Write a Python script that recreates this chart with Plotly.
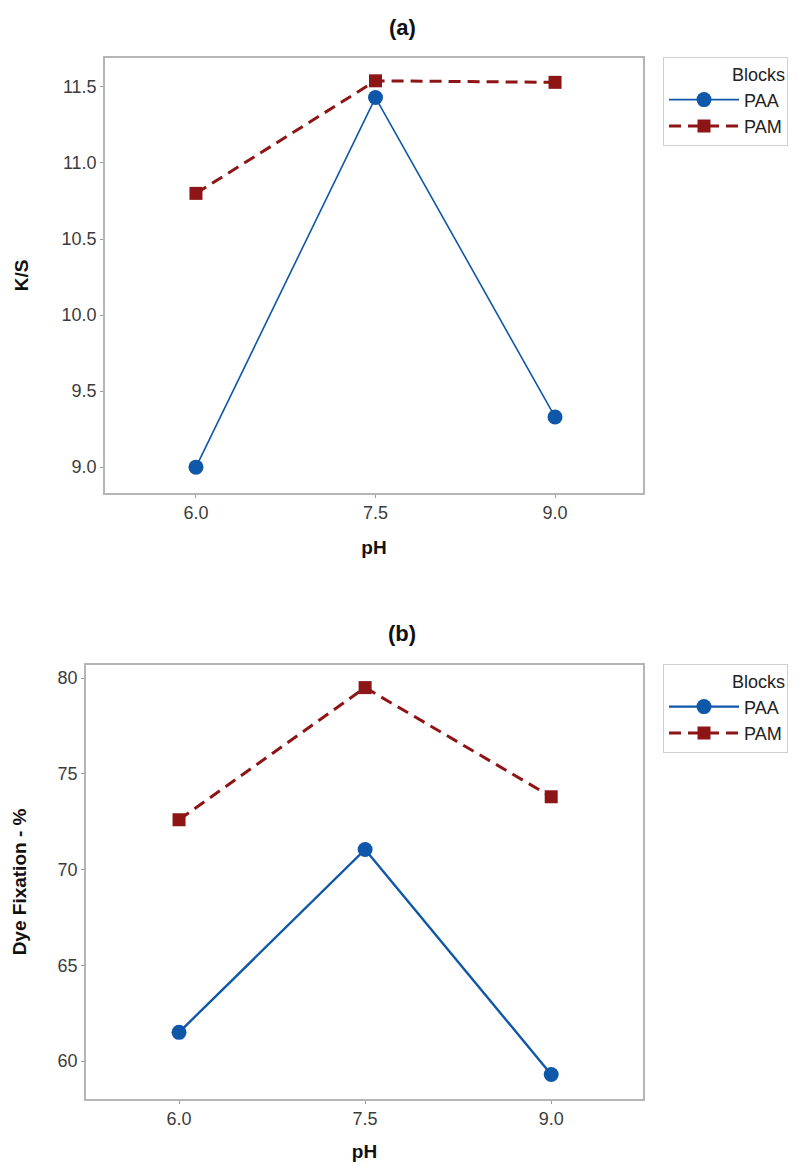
import plotly.graph_objects as go

# pH levels tested
ph = [6.0, 7.5, 9.0]

# (a) colour strength K/S per block
ks_paa = [9.00, 11.43, 9.33]
ks_pam = [10.80, 11.54, 11.53]

# (b) dye fixation (%) per block
fix_paa = [61.5, 71.05, 59.3]
fix_pam = [72.6, 79.5, 73.8]

blocks = ["PAA", "PAM"]
ytick_a = [9.0, 9.5, 10.0, 10.5, 11.0, 11.5]
ytick_b = [60, 65, 70, 75, 80]
xtick = [6.0, 7.5, 9.0]

W, H = 798, 1166
BLUE = "#0f57a8"
RED = "#8e1515"
FONT = "Liberation Sans, Arial, sans-serif"

fig = go.Figure()


def add_panel(xa, ya, leg, paa, pam, paa_w):
    fig.add_trace(go.Scatter(
        x=ph, y=pam, name=blocks[1], mode="lines+markers",
        line=dict(color=RED, width=3, dash="12px,7px"),
        marker=dict(symbol="square", size=13, color=RED),
        xaxis=xa, yaxis=ya, legend=leg,
    ))
    fig.add_trace(go.Scatter(
        x=ph, y=paa, name=blocks[0], mode="lines+markers",
        line=dict(color=BLUE, width=paa_w),
        marker=dict(symbol="circle", size=15, color=BLUE),
        xaxis=xa, yaxis=ya, legend=leg,
    ))


add_panel("x", "y", "legend", ks_paa, ks_pam, 1.6)
add_panel("x2", "y2", "legend2", fix_paa, fix_pam, 2.4)


def px(v):
    return v / W


def py(v):
    return 1 - v / H


axis_common = dict(
    showline=True, mirror=True, linecolor="#b5b5b5", linewidth=1.5,
    showgrid=False, zeroline=False, ticks="outside", ticklen=3,
    tickcolor="#9a9a9a", automargin=False,
    tickfont=dict(family=FONT, size=18, color="#3c3c3c"),
)
title_font = dict(family=FONT, size=19, color="#111111")

legend_common = dict(
    xanchor="left", yanchor="top", bgcolor="white",
    bordercolor="#cfcfcf", borderwidth=1,
    font=dict(family=FONT, size=18, color="#222222"),
    itemwidth=70, tracegroupgap=0,
    title=dict(text="Blocks", side="top right",
               font=dict(family=FONT, size=18, color="#222222")),
    traceorder="reversed",
)

fig.update_layout(
    width=W, height=H,
    margin=dict(l=0, r=0, t=0, b=0),
    paper_bgcolor="white", plot_bgcolor="white",
    showlegend=True,
    xaxis=dict(domain=[px(105), px(643)], range=[5.24, 9.735],
               tickvals=xtick, ticktext=[f"{v:.1f}" for v in xtick],
               title=dict(text="<b>pH</b>", font=title_font, standoff=18),
               anchor="y", **axis_common),
    yaxis=dict(domain=[py(493), py(58)], range=[8.83, 11.69],
               tickvals=ytick_a, ticktext=[f"{v:.1f}" for v in ytick_a],
               title=dict(text="<b>K/S</b>", font=title_font, standoff=28),
               anchor="x", **axis_common),
    xaxis2=dict(domain=[px(86), px(643)], range=[5.25, 9.74],
                tickvals=xtick, ticktext=[f"{v:.1f}" for v in xtick],
                title=dict(text="<b>pH</b>", font=title_font, standoff=16),
                anchor="y2", **axis_common),
    yaxis2=dict(domain=[py(1099), py(665)], range=[58.02, 80.68],
                tickvals=ytick_b, ticktext=[str(v) for v in ytick_b],
                title=dict(text="<b>Dye Fixation - %</b>", font=title_font,
                           standoff=26),
                anchor="x2", **axis_common),
    legend=dict(x=px(663), y=py(57), **legend_common),
    legend2=dict(x=px(663), y=py(664), **legend_common),
    annotations=[
        dict(text="<b>(a)</b>", x=px(402), y=py(27), xref="paper",
             yref="paper", showarrow=False, xanchor="center",
             yanchor="middle", font=dict(family=FONT, size=22, color="#111")),
        dict(text="<b>(b)</b>", x=px(402), y=py(633), xref="paper",
             yref="paper", showarrow=False, xanchor="center",
             yanchor="middle", font=dict(family=FONT, size=22, color="#111")),
    ],
)

fig.write_html("out.html")
